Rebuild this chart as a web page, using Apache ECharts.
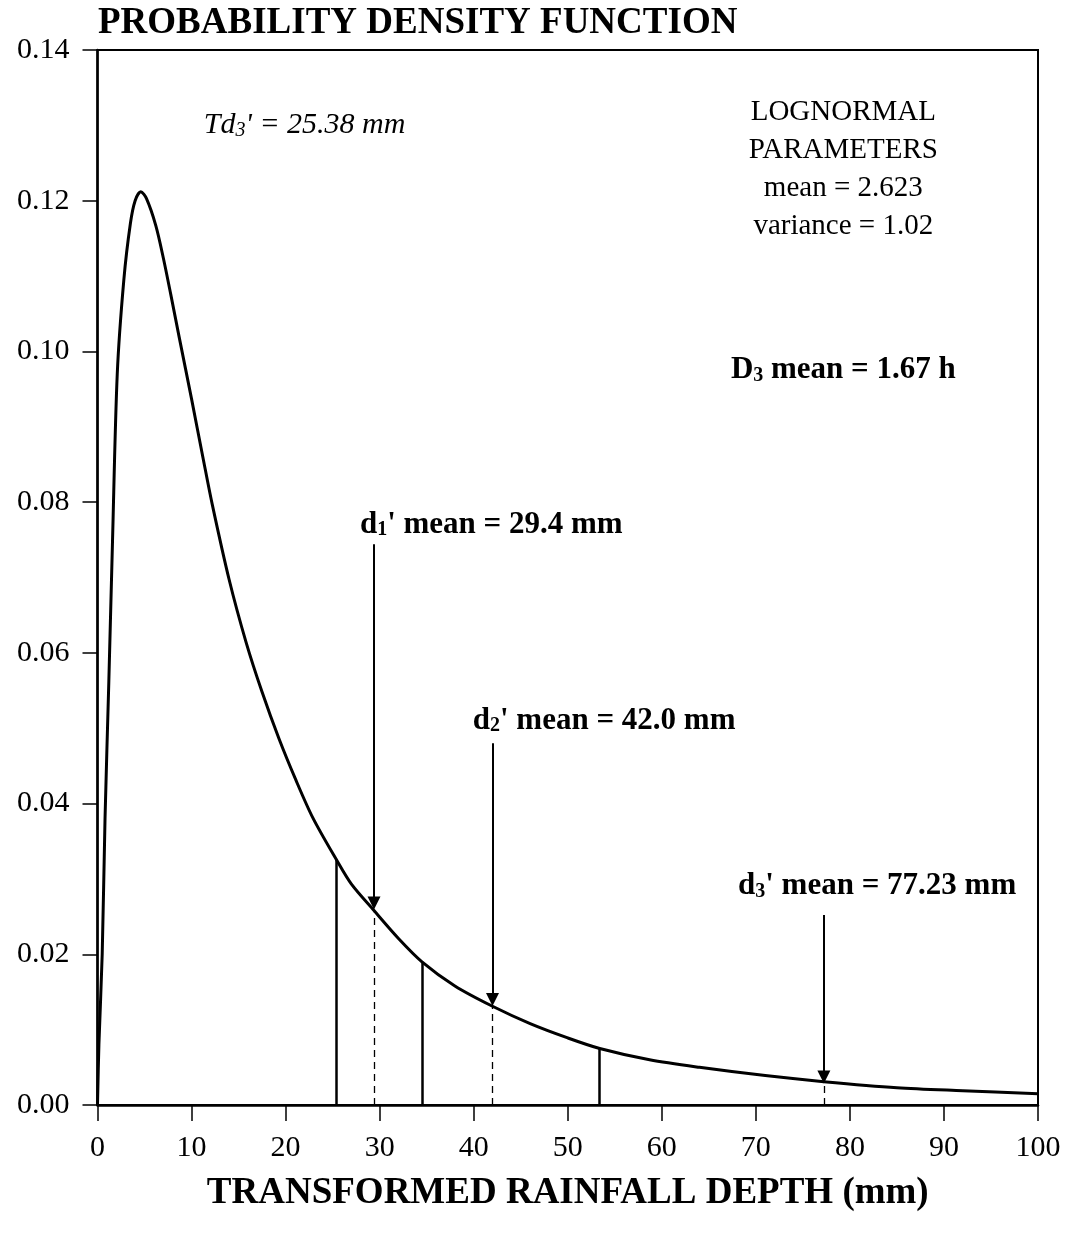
<!DOCTYPE html>
<html><head><meta charset="utf-8">
<script src="https://cdn.jsdelivr.net/npm/echarts@6/dist/echarts.min.js"></script>
<style>html,body{margin:0;padding:0;background:#fff}#c{width:1066px;height:1236px}</style>
</head><body><div id="c"></div>
<script>
// Curve
const curveX = [0, 0.15, 0.5, 0.8, 1.2, 1.6, 2.1, 2.8, 3.5, 4.0, 4.6, 5.2, 6.2, 7.0, 7.8, 8.7, 10.0, 11.2, 12.2, 14.0, 15.8, 17.5, 19.3, 21.1, 22.9, 25.38, 27.0, 29.4, 32.0, 34.5, 38.0, 42.0, 46.0, 50.0, 53.4, 58.7, 64.0, 71.0, 77.23, 85.0, 92.0, 100];
const curveY = [0, 0.008, 0.020, 0.038, 0.056, 0.075, 0.097, 0.1095, 0.1170, 0.1200, 0.1212, 0.1203, 0.1167, 0.1124, 0.1075, 0.1018, 0.0937, 0.0860, 0.0797, 0.0697, 0.0614, 0.0548, 0.0486, 0.0431, 0.0381, 0.0326, 0.0293, 0.0258, 0.0221, 0.0190, 0.0158, 0.0131, 0.0108, 0.0089, 0.0075, 0.0060, 0.0050, 0.0039, 0.0031, 0.0023, 0.0019, 0.0015];

// Solid interval boundaries
const splitX = [25.38, 34.5, 53.4];
const splitY = [0.0326, 0.0190, 0.0075];
// Dashed mean lines
const meanX = [29.4, 42.0, 77.23];
const meanY = [0.0258, 0.0131, 0.0031];
// Arrows (start and tip heights)
const arrowTop = [0.0744, 0.0480, 0.0252];
const arrowTip = [0.0268, 0.0140, 0.0037];

// Texts
const titleText = 'PROBABILITY DENSITY FUNCTION';
const xAxisName = 'TRANSFORMED RAINFALL DEPTH (mm)';
const meanLabels = ["{b|d}{bs|1}{b|' mean = 29.4 mm}", "{b|d}{bs|2}{b|' mean = 42.0 mm}", "{b|d}{bs|3}{b|' mean = 77.23 mm}"];
const meanLabelPos = [[27.9, 0.0770], [39.9, 0.0510], [68.1, 0.0290]];
const tdLabel = "{it|Td}{its|3}{it|' = 25.38 mm}";
const tdLabelPos = [11.3, 0.1300];
const paramLabel = 'LOGNORMAL\nPARAMETERS\nmean = 2.623\nvariance = 1.02';
const paramLabelPos = [79.3, 0.1242];
const dLabel = '{b|D}{bs|3}{b| mean = 1.67 h}';
const dLabelPos = [79.3, 0.0975];

const FONT = '"Liberation Serif", "Times New Roman", serif';
const rich = {
  b: {fontFamily: FONT, fontWeight: 'bold', fontSize: 31, color: '#000'},
  bs: {fontFamily: FONT, fontWeight: 'bold', fontSize: 20, color: '#000', verticalAlign: 'bottom', lineHeight: 25},
  it: {fontFamily: FONT, fontStyle: 'italic', fontSize: 30, color: '#000'},
  its: {fontFamily: FONT, fontStyle: 'italic', fontSize: 20, color: '#000', verticalAlign: 'bottom', lineHeight: 25}
};

const annotations = [];
meanLabels.forEach((t, i) => annotations.push({value: meanLabelPos[i], label: {formatter: t, align: 'left'}}));
annotations.push({value: tdLabelPos, label: {formatter: tdLabel, align: 'left'}});
annotations.push({value: paramLabelPos, label: {formatter: paramLabel, align: 'center', fontFamily: FONT, fontSize: 29, lineHeight: 38, color: '#000'}});
annotations.push({value: dLabelPos, label: {formatter: dLabel, align: 'center'}});

const chart = echarts.init(document.getElementById('c'), null, {renderer: 'canvas'});
chart.setOption({
  animation: false,
  backgroundColor: '#fff',
  title: {
    text: titleText, left: 93, top: 0,
    textStyle: {fontFamily: FONT, fontWeight: 'bold', fontSize: 37, color: '#000'}
  },
  grid: {left: 97.5, right: 28, top: 50, bottom: 131, show: true, borderColor: '#000', borderWidth: 2, backgroundColor: 'transparent'},
  xAxis: {
    type: 'value', min: 0, max: 100, interval: 10,
    name: xAxisName, nameLocation: 'middle', nameGap: 70,
    nameTextStyle: {fontFamily: FONT, fontWeight: 'bold', fontSize: 37, color: '#000'},
    axisLine: {show: true, lineStyle: {color: '#000', width: 2.5}},
    axisTick: {show: true, length: 16, lineStyle: {color: '#000', width: 1.5}},
    axisLabel: {fontFamily: FONT, fontSize: 30, color: '#000', margin: 28},
    splitLine: {show: false}
  },
  yAxis: {
    type: 'value', min: 0, max: 0.14, interval: 0.02,
    axisLine: {show: true, lineStyle: {color: '#000', width: 2.5}},
    axisTick: {show: true, length: 15, lineStyle: {color: '#000', width: 1.5}},
    axisLabel: {fontFamily: FONT, fontSize: 30, color: '#000', margin: 28, formatter: v => v.toFixed(2)},
    splitLine: {show: false}
  },
  series: [
    {
      type: 'line', name: 'pdf',
      data: curveX.map((x, i) => [x, curveY[i]]),
      showSymbol: false, smooth: 0.3,
      lineStyle: {color: '#000', width: 3},
      z: 5,
      markLine: {
        silent: true, symbol: ['none', 'none'], label: {show: false},
        lineStyle: {color: '#000', width: 2.5, type: 'solid'},
        data: splitX.map((x, i) => [{coord: [x, 0]}, {coord: [x, splitY[i]]}])
      }
    },
    {
      type: 'line', name: 'dashed', data: [],
      markLine: {
        silent: true, symbol: ['none', 'none'], label: {show: false},
        lineStyle: {color: '#000', width: 1.3, type: [7, 5]},
        data: meanX.map((x, i) => [{coord: [x, 0]}, {coord: [x, meanY[i]]}])
      }
    },
    {
      type: 'line', name: 'arrows', data: [],
      markLine: {
        silent: true, symbol: ['none', 'triangle'], symbolSize: 13, label: {show: false},
        lineStyle: {color: '#000', width: 2, type: 'solid'},
        itemStyle: {color: '#000'},
        data: meanX.map((x, i) => [{coord: [x, arrowTop[i]]}, {coord: [x, arrowTip[i]]}])
      }
    },
    {
      type: 'scatter', name: 'text', symbolSize: 1,
      itemStyle: {color: 'rgba(0,0,0,0)', opacity: 1},
      label: {show: true, position: 'inside', color: '#000', rich: rich, verticalAlign: 'middle'},
      data: annotations,
      silent: true, z: 10
    }
  ]
});
</script></body></html>
